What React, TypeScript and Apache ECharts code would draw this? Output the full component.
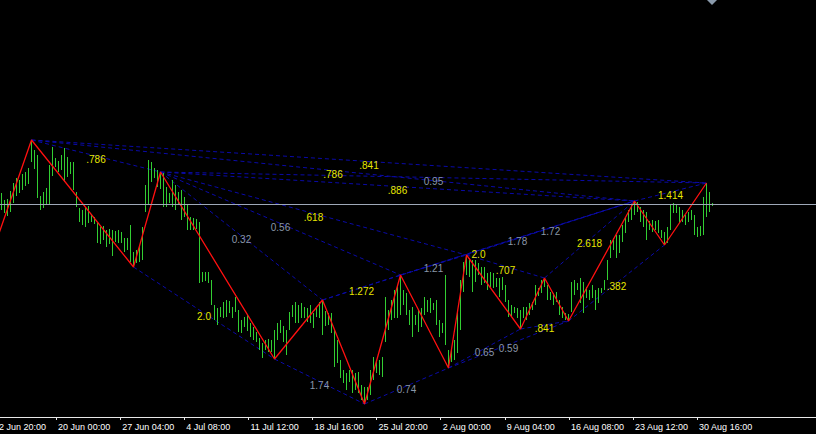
import React, { useEffect, useRef } from "react";
import * as echarts from "echarts";

// H4 bar chart: one entry per bar (price in points)
const barHighs = [
  224, 217, 218, 226, 234, 239, 237, 243, 245, 249,
  277, 267, 262, 221, 225, 229, 252, 270, 259, 256,
  262, 269, 260, 255, 255, 225, 209, 207, 210, 211,
  203, 200, 194, 190, 191, 187, 188, 187, 186, 187,
  185, 179, 179, 192, 165, 167, 172, 190, 232, 257,
  255, 249, 247, 245, 244, 230, 224, 237, 232, 225,
  227, 220, 212, 200, 199, 198, 195, 145, 145, 145,
  137, 112, 109, 110, 115, 117, 116, 110, 120, 107,
  97, 100, 102, 94, 90, 85, 79, 74, 77, 78,
  77, 87, 94, 97, 91, 87, 105, 112, 115, 112,
  114, 110, 109, 112, 104, 110, 115, 117, 106, 104,
  104, 87, 77, 57, 47, 44, 47, 47, 44, 45,
  32, 30, 30, 47, 60, 57, 57, 60, 120, 107,
  117, 127, 130, 142, 127, 124, 107, 110, 102, 107,
  109, 120, 117, 119, 114, 117, 97, 94, 142, 67,
  67, 77, 105, 137, 155, 162, 159, 157, 157, 154,
  150, 150, 144, 145, 144, 139, 139, 140, 132, 117,
  112, 110, 109, 107, 110, 110, 114, 115, 132, 129,
  137, 139, 132, 125, 124, 125, 117, 110, 104, 103,
  135, 137, 134, 139, 135, 130, 127, 132, 127, 129,
  129, 137, 157, 177, 179, 182, 182, 192, 199, 207,
  212, 216, 215, 210, 207, 205, 196, 197, 196, 197,
  187, 185, 190, 212, 214, 212, 210, 207, 202, 205,
  207, 202, 190, 191, 220, 234, 225, 214,
];
const barLows = [
  207, 204, 201, 205, 214, 221, 224, 227, 231, 233,
  255, 248, 219, 207, 209, 212, 213, 241, 250, 245,
  247, 235, 240, 243, 227, 210, 195, 192, 190, 194,
  195, 193, 174, 173, 177, 170, 173, 161, 175, 174,
  174, 165, 167, 155, 150, 154, 155, 157, 205, 212,
  235, 239, 230, 228, 210, 210, 214, 210, 207, 212,
  197, 200, 187, 187, 187, 188, 134, 135, 136, 134,
  112, 97, 92, 100, 99, 100, 104, 99, 105, 85,
  84, 90, 86, 80, 77, 75, 67, 59, 67, 65,
  65, 58, 77, 84, 75, 62, 87, 100, 94, 94,
  99, 99, 95, 94, 89, 100, 99, 82, 91, 92,
  84, 50, 54, 39, 34, 27, 35, 24, 27, 24,
  17, 13, 17, 22, 37, 44, 42, 40, 75, 87,
  97, 99, 99, 102, 112, 102, 92, 80, 92, 85,
  90, 102, 105, 104, 107, 92, 80, 84, 72, 49,
  55, 57, 64, 87, 125, 142, 140, 125, 135, 142,
  132, 134, 127, 130, 129, 130, 120, 127, 115, 100,
  100, 104, 99, 88, 99, 97, 102, 107, 112, 121,
  124, 130, 117, 117, 112, 115, 102, 99, 97, 96,
  105, 122, 127, 114, 104, 119, 117, 119, 107, 114,
  124, 127, 137, 159, 167, 159, 164, 175, 184, 195,
  197, 202, 205, 195, 190, 177, 187, 185, 187, 184,
  179, 172, 174, 187, 204, 204, 194, 195, 192, 195,
  197, 182, 180, 181, 182, 200, 205, 211,
];

// ZigZag pivots (bar index, price)
const pivotBars = [-3, 10, 44, 53, 91, 107, 121, 133, 149, 155, 173, 181, 189, 211, 221, 235];
const pivotPrices = [165, 277, 150, 245, 58, 117, 13, 142, 49, 162, 88, 139, 96, 216, 172, 234];

// Ratio lines between pivots
const fanFrom = [1, 2, 3, 4, 5, 6, 7, 8, 9, 10, 11, 12, 13, 3, 3, 3, 3, 1, 1, 7, 9, 8, 5];
const fanTo = [3, 4, 5, 6, 7, 8, 9, 10, 11, 12, 13, 14, 15, 7, 9, 13, 15, 13, 15, 13, 13, 12, 13];
const fanLabels = [
  ".786", "2.0", "0.32", "1.74", "1.272", "0.74", "1.21", "0.65", ".707", ".841", "2.618", ".382", "1.414",
  "0.56", ".618", ".886", "0.95", ".786", ".841", "1.78", "1.72", "0.59", "2.0",
];
const fanIsFib = [1, 1, 0, 0, 1, 0, 0, 0, 1, 1, 1, 1, 1, 0, 1, 1, 0, 1, 1, 0, 0, 0, 1];

const timeLabels = [
  "12 Jun 20:00", "20 Jun 00:00", "27 Jun 04:00", "4 Jul 08:00", "11 Jul 12:00", "18 Jul 16:00",
  "25 Jul 20:00", "2 Aug 00:00", "9 Aug 04:00", "16 Aug 08:00", "23 Aug 12:00", "30 Aug 16:00",
];

const bidPrice = 213;

const FONT = "'Liberation Sans', Arial, sans-serif";

export default function App() {
  const ref = useRef<HTMLDivElement>(null);

  useEffect(() => {
    if (!ref.current) return;
    const chart = echarts.init(ref.current, null, { renderer: "svg" });

    const barData = barHighs.map((h, i) => [i, barLows[i], h]);
    const zigzag = pivotBars.map((b, i) => [b, pivotPrices[i]]);
    const fanData = fanFrom.map((f, k) => [
      pivotBars[f], pivotPrices[f], pivotBars[fanTo[k]], pivotPrices[fanTo[k]],
    ]);

    chart.setOption({
      animation: false,
      backgroundColor: "#000000",
      grid: [
        { left: 0, top: 0, width: 816, height: 417 },
        { left: 56.1, top: 0, width: 641, height: 417 },
      ],
      xAxis: [
        {
          gridIndex: 0,
          type: "value",
          min: -0.5,
          max: 271.5,
          axisLine: { show: true, lineStyle: { color: "#e8e8e8", width: 1 } },
          axisTick: { show: false },
          axisLabel: { show: false },
          splitLine: { show: false },
        },
        {
          gridIndex: 1,
          type: "value",
          min: 1,
          max: 11,
          interval: 1,
          axisLine: { show: false },
          axisTick: { show: true, length: 3, lineStyle: { color: "#e8e8e8" } },
          axisLabel: {
            show: true,
            formatter: (v: number) => timeLabels[Math.round(v)] || "",
            align: "left",
            margin: 5,
            padding: [0, 0, 0, 2],
            color: "#ffffff",
            fontSize: 9,
            fontFamily: FONT,
            showMinLabel: true,
            showMaxLabel: true,
            hideOverlap: false,
          },
          splitLine: { show: false },
        },
      ],
      yAxis: [
        { gridIndex: 0, type: "value", min: 0, max: 417, show: false },
        { gridIndex: 1, type: "value", min: 0, max: 1, show: false },
      ],
      graphic: [
        {
          type: "polygon",
          shape: { points: [[707, 0], [717, 0], [712, 5]] },
          style: { fill: "#8a9aab" },
          z: 100,
        },
        {
          type: "text",
          x: -6.1,
          y: 422,
          style: {
            text: timeLabels[0],
            fill: "#ffffff",
            fontSize: 9,
            fontFamily: FONT,
            align: "left",
            verticalAlign: "top",
          },
          z: 100,
        },
      ],
      series: [
        {
          type: "custom",
          name: "fans",
          xAxisIndex: 0,
          yAxisIndex: 0,
          clip: true,
          z: 1,
          data: fanData,
          renderItem: (params: any, api: any) => {
            const a = api.coord([api.value(0), api.value(1)]);
            const b = api.coord([api.value(2), api.value(3)]);
            return {
              type: "line",
              shape: { x1: a[0], y1: a[1], x2: b[0], y2: b[1] },
              style: { stroke: "#0a0aa8", lineWidth: 1, lineDash: [4, 3] },
            };
          },
        },
        {
          type: "custom",
          name: "bars",
          xAxisIndex: 0,
          yAxisIndex: 0,
          clip: true,
          z: 2,
          data: barData,
          renderItem: (params: any, api: any) => {
            const x = api.value(0);
            const top = api.coord([x, api.value(2)]);
            const bot = api.coord([x, api.value(1)]);
            return {
              type: "line",
              shape: { x1: top[0], y1: top[1], x2: bot[0], y2: bot[1] },
              style: { stroke: "#32cd32", lineWidth: 1 },
            };
          },
        },
        {
          type: "line",
          name: "zigzag",
          xAxisIndex: 0,
          yAxisIndex: 0,
          data: zigzag,
          showSymbol: false,
          symbol: "none",
          clip: true,
          z: 3,
          lineStyle: { color: "#ff1010", width: 1.3 },
          markLine: {
            silent: true,
            symbol: "none",
            label: { show: false },
            lineStyle: { color: "#9ea8b8", width: 1, type: "solid" },
            data: [{ yAxis: bidPrice }],
          },
        },
        {
          type: "custom",
          name: "ratios",
          xAxisIndex: 0,
          yAxisIndex: 0,
          z: 5,
          data: fanData,
          renderItem: (params: any, api: any) => {
            const a = api.coord([api.value(0), api.value(1)]);
            const b = api.coord([api.value(2), api.value(3)]);
            const k = params.dataIndex;
            return {
              type: "text",
              x: (a[0] + b[0]) / 2,
              y: (a[1] + b[1]) / 2 - 1.5,
              style: {
                text: fanLabels[k],
                fill: fanIsFib[k] ? "#e6e600" : "#8a96a8",
                fontSize: 10,
                fontFamily: FONT,
                align: "center",
                verticalAlign: "top",
              },
            };
          },
        },
      ],
    });

    return () => chart.dispose();
  }, []);

  return (
    <div
      ref={ref}
      style={{ position: "fixed", left: 0, top: 0, width: 816, height: 434, background: "#000" }}
    />
  );
}
